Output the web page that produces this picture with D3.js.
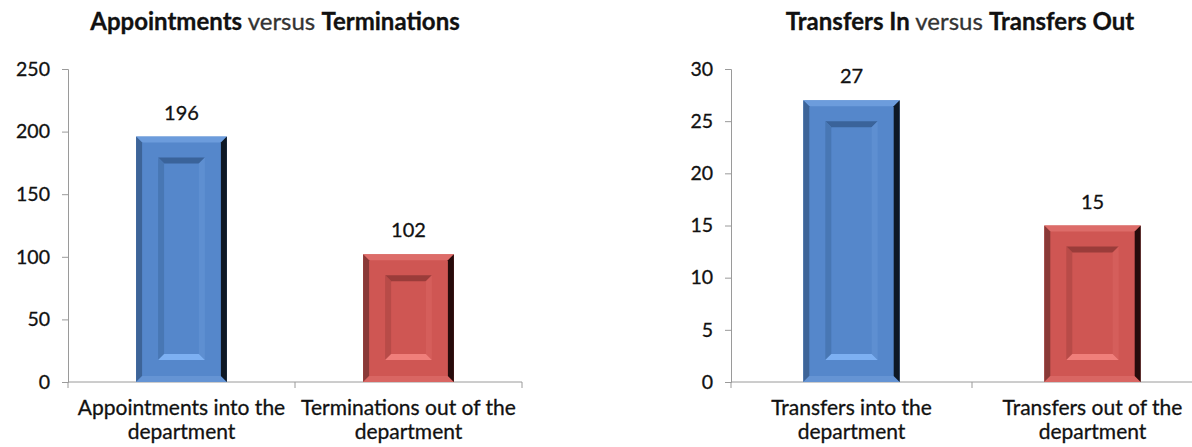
<!DOCTYPE html>
<html>
<head>
<meta charset="utf-8">
<script src="https://cdn.jsdelivr.net/npm/d3@7"></script>
<style>
  html, body { margin: 0; padding: 0; background: #fff; }
  svg { display: block; }
  text { font-family: Lato, "Open Sans", sans-serif; fill: #111; stroke: #111; stroke-width: 0.3px; }
</style>
</head>
<body>
<svg id="chart" width="1192" height="447"></svg>
<script>
// Headcount movement data
const apptCategories = ["Appointments into the\ndepartment", "Terminations out of the\ndepartment"];
const apptValues = [196, 102];
const apptTicks = [0, 50, 100, 150, 200, 250];

const transferCategories = ["Transfers into the\ndepartment", "Transfers out of the\ndepartment"];
const transferValues = [27, 15];
const transferTicks = [0, 5, 10, 15, 20, 25, 30];

const barThemes = [
  { face: "#5587cb", top: "#6c9cdc", left: "#3d6498", right: "#0e1824", bottom: "#6594d4",
    inTop: "#3a639a", inLeft: "#4877b4", inRight: "#5e8fd1", inBottom: "#7db0f2" },
  { face: "#cf5653", top: "#dd6c69", left: "#8a3937", right: "#260b0b", bottom: "#d96663",
    inTop: "#9a3c3a", inLeft: "#b84b48", inRight: "#d55e5b", inBottom: "#f07f7b" }
];

const svg = d3.select("#chart");

function drawPanel(cfg) {
  const g = svg.append("g");
  const x = d3.scaleBand().domain(cfg.categories).range([cfg.x0, cfg.x1]).paddingInner(0.6).paddingOuter(0.3);
  const y = d3.scaleLinear().domain([0, cfg.max]).range([cfg.y0, cfg.y1]);

  // Title with bold keywords
  const t = g.append("text").attr("x", cfg.titleX).attr("y", 30)
    .attr("text-anchor", "middle").style("font-size", "24px");
  cfg.title.forEach(p => t.append("tspan").text(p.s).style("font-weight", p.b ? 700 : 400)
    .style("fill", p.b ? "#111" : "#333").style("stroke", p.b ? "#111" : "#333"));

  // Y axis
  const yAxis = d3.axisLeft(y).tickValues(cfg.ticks).tickSize(6).tickPadding(12).tickFormat(d3.format("d"));
  const ya = g.append("g").attr("transform", `translate(${cfg.x0},0)`).call(yAxis);
  ya.select(".domain").attr("stroke", "#9a9a9a");
  ya.selectAll(".tick line").attr("stroke", "#9a9a9a");
  ya.selectAll(".tick text").style("font-size", "19.5px").style("font-family", "Lato, sans-serif");

  // X axis baseline with category dividers
  const xa = g.append("g");
  xa.append("line").attr("x1", cfg.x0).attr("x2", cfg.x1).attr("y1", y(0)).attr("y2", y(0)).attr("stroke", "#9a9a9a");
  const divs = d3.range(cfg.categories.length + 1).map(i => cfg.x0 + i * (cfg.x1 - cfg.x0) / cfg.categories.length);
  xa.selectAll("line.div").data(divs).join("line").attr("class", "div")
    .attr("x1", d => d).attr("x2", d => d).attr("y1", y(0)).attr("y2", y(0) + 6).attr("stroke", "#9a9a9a");

  // Category labels
  cfg.categories.forEach((c, i) => {
    const cx = x(c) + x.bandwidth() / 2;
    const lab = g.append("text").attr("x", cx).attr("y", cfg.y0 + 33)
      .attr("text-anchor", "middle").style("font-size", "21px");
    c.split("\n").forEach((line, k) => lab.append("tspan").attr("x", cx).attr("dy", k ? 24 : 0).text(line));
  });

  // Bevelled bars
  cfg.values.forEach((v, i) => {
    const c = cfg.categories[i];
    const th = barThemes[i];
    const bx0 = x(c), bx1 = x(c) + x.bandwidth();
    const by0 = y(v), by1 = y(0);
    const b = 6;
    const bar = g.append("g");
    bar.append("rect").attr("x", bx0).attr("y", by0).attr("width", bx1 - bx0).attr("height", by1 - by0).attr("fill", th.face);
    const poly = (pts, fill) => bar.append("polygon").attr("points", pts.map(p => p.join(",")).join(" ")).attr("fill", fill);
    poly([[bx0, by0], [bx1, by0], [bx1 - b, by0 + b], [bx0 + b, by0 + b]], th.top);
    poly([[bx0, by0], [bx0 + b, by0 + b], [bx0 + b, by1 - b], [bx0, by1]], th.left);
    poly([[bx0, by1], [bx1, by1], [bx1 - b, by1 - b], [bx0 + b, by1 - b]], th.bottom);
    poly([[bx1, by0], [bx1, by1], [bx1 - b, by1 - b], [bx1 - b, by0 + b]], th.right);

    // Recessed inner panel
    const ins = 22, ib = 6;
    const ix0 = bx0 + ins, ix1 = bx1 - ins, iy0 = by0 + ins - 1, iy1 = by1 - ins;
    if (iy1 - iy0 > 2 * ib) {
      poly([[ix0, iy0], [ix1, iy0], [ix1 - ib, iy0 + ib], [ix0 + ib, iy0 + ib]], th.inTop);
      poly([[ix0, iy0], [ix0 + ib, iy0 + ib], [ix0 + ib, iy1 - ib], [ix0, iy1]], th.inLeft);
      poly([[ix1, iy0], [ix1, iy1], [ix1 - ib, iy1 - ib], [ix1 - ib, iy0 + ib]], th.inRight);
      poly([[ix0, iy1], [ix1, iy1], [ix1 - ib, iy1 - ib], [ix0 + ib, iy1 - ib]], th.inBottom);
    }

    // Value label
    g.append("text").attr("x", (bx0 + bx1) / 2).attr("y", by0 - 17)
      .attr("text-anchor", "middle").style("font-size", "20px").text(v);
  });
}

drawPanel({
  categories: apptCategories, values: apptValues, ticks: apptTicks, max: 250,
  x0: 68, x1: 522, y0: 382, y1: 69, titleX: 275,
  title: [{ s: "Appointments", b: true }, { s: " versus ", b: false }, { s: "Terminations", b: true }]
});

drawPanel({
  categories: transferCategories, values: transferValues, ticks: transferTicks, max: 30,
  x0: 731, x1: 1213, y0: 382, y1: 69, titleX: 960,
  title: [{ s: "Transfers In", b: true }, { s: " versus ", b: false }, { s: "Transfers Out", b: true }]
});
</script>
</body>
</html>
